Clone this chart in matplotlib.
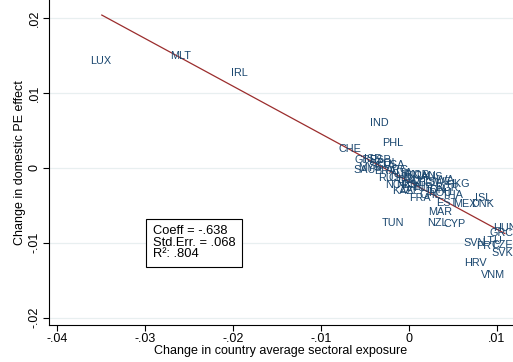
import numpy as np
import matplotlib.pyplot as plt

plt.rcParams["font.family"] = ["Liberation Sans", "DejaVu Sans"]

# country labels and their (x, y) positions
countries = ["LUX", "MLT", "IRL", "IND", "PHL", "CHE", "SAU", "TUN", "HKG", "THA",
             "ISL", "DNK", "MEX", "EST", "MAR", "NZL", "CYP", "FRA", "HUN", "GRC",
             "SVN", "LTU", "PRT", "CZE", "SVK", "HRV", "VNM",
             "GBR", "ISR", "ESP", "POL", "USA", "BRA", "ARG", "ITA", "JPN", "KOR",
             "CAN", "AUS", "DEU", "AUT", "BEL", "SWE", "NLD", "NOR", "FIN", "LVA",
             "CHN", "RUS", "TUR", "IDN", "ZAF", "KAZ", "CHL", "MYS", "SGP", "ROU", "BGR"]
x_exposure = [-0.0350, -0.0259, -0.0193, -0.0034, -0.0019, -0.0067, -0.0050, -0.0018, 0.0056, 0.0050,
              0.0084, 0.0084, 0.0064, 0.0043, 0.0035, 0.0032, 0.0052, 0.0013, 0.0109, 0.0105,
              0.0075, 0.0094, 0.0089, 0.0106, 0.0106, 0.0075, 0.0095,
              -0.0049, -0.0041, -0.0033, -0.0025, -0.0018, -0.0027, -0.0013, -0.0005, 0.0001, 0.0010,
              0.0018, 0.0026, -0.0001, 0.0010, 0.0022, 0.0035, -0.0002, -0.0014, 0.0007, 0.0041,
              -0.0010, -0.0022, 0.0016, 0.0031, 0.0001, -0.0007, 0.0024, -0.0044, -0.0033, 0.0035, 0.0043]
y_pe_effect = [0.0143, 0.0150, 0.0127, 0.0060, 0.0033, 0.0025, -0.0003, -0.0074, -0.0021, -0.0036,
               -0.0040, -0.0048, -0.0048, -0.0047, -0.0059, -0.0074, -0.0075, -0.0040, -0.0080, -0.0087,
               -0.0100, -0.0098, -0.0104, -0.0103, -0.0114, -0.0127, -0.0143,
               0.0011, 0.0012, 0.0011, 0.0007, 0.0004, -0.0004, -0.0003, -0.0007, -0.0009, -0.0009,
               -0.0011, -0.0012, -0.0016, -0.0017, -0.0020, -0.0019, -0.0023, -0.0023, -0.0025, -0.0016,
               -0.0013, -0.0013, -0.0027, -0.0029, -0.0029, -0.0031, -0.0036, 0.0000, 0.0003, -0.0033, -0.0027]

# fitted line
coeff = -0.638
intercept = -0.00182
fit_x = np.array([-0.0349, 0.0109])

x_ticks = [-0.04, -0.03, -0.02, -0.01, 0, 0.01]
x_ticklabels = ["-.04", "-.03", "-.02", "-.01", "0", ".01"]
y_ticks = [-0.02, -0.01, 0, 0.01, 0.02]
y_ticklabels = ["-.02", "-.01", "0", ".01", ".02"]

label_color = "#1a476f"

fig = plt.figure(figsize=(5.13, 3.62), dpi=100)
ax = fig.add_axes([0.0955, 0.1022, 0.9045, 0.8978])

for name, xv, yv in zip(countries, x_exposure, y_pe_effect):
    ax.text(xv, yv, name, color=label_color, fontsize=7.8, ha="center", va="center")

ax.plot(fit_x, intercept + coeff * fit_x, color="#9b2d2d", linewidth=0.9)

ax.set_xlim(-0.0409, 0.01182)
ax.set_ylim(-0.0210, 0.02246)
ax.set_xticks(x_ticks)
ax.set_xticklabels(x_ticklabels)
ax.set_yticks(y_ticks)
ax.set_yticklabels(y_ticklabels, rotation=90, va="center")
ax.tick_params(labelsize=9, length=4, width=0.8, colors="black", pad=2)
ax.grid(axis="y", color="#e8eff0", linewidth=0.9)
ax.set_axisbelow(True)
for side in ("top", "right"):
    ax.spines[side].set_visible(False)
for side in ("left", "bottom"):
    ax.spines[side].set_linewidth(0.8)

ax.set_xlabel("Change in country average sectoral exposure", fontsize=9, labelpad=0)
ax.set_ylabel("Change in domestic PE effect", fontsize=9, labelpad=2)

ax.text(-0.0291, -0.0100, "Coeff = -.638\nStd.Err. = .068\nR\u00b2: .804",
        fontsize=9.3, ha="left", va="center", linespacing=0.95,
        bbox=dict(boxstyle="square,pad=0.5", facecolor="white", edgecolor="black", linewidth=0.8))

fig.savefig("out.png", dpi=100)
